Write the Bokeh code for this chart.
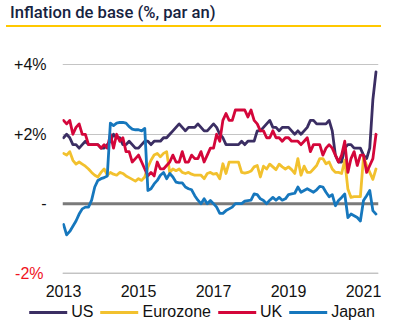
from bokeh.plotting import figure
from bokeh.models import Range1d, FixedTicker, Span, LinearAxis, Legend, LegendItem, Div
from bokeh.layouts import column
from bokeh.embed import file_html
from bokeh.resources import INLINE

# ---------------- data (monthly, Jan 2013 .. May 2021) ----------------
start_year = 2013
series_names = ["US", "Eurozone", "UK", "Japan"]

us = [1.9, 2.0, 1.9, 1.7, 1.7, 1.6, 1.7, 1.8, 1.7, 1.7, 1.7, 1.7,
      1.6, 1.6, 1.7, 1.8, 2.0, 1.9, 1.9, 1.7, 1.7, 1.8, 1.7, 1.6,
      1.6, 1.7, 1.8, 1.8, 1.7, 1.8, 1.8, 1.8, 1.9, 1.9, 2.0, 2.1,
      2.2, 2.3, 2.2, 2.1, 2.2, 2.2, 2.2, 2.3, 2.2, 2.1, 2.1, 2.2,
      2.3, 2.2, 2.0, 1.9, 1.7, 1.7, 1.7, 1.7, 1.7, 1.8, 1.7, 1.8,
      1.8, 1.8, 2.1, 2.1, 2.2, 2.3, 2.4, 2.2, 2.2, 2.1, 2.2, 2.2,
      2.2, 2.1, 2.0, 2.1, 2.0, 2.1, 2.2, 2.4, 2.4, 2.3, 2.3, 2.3,
      2.3, 2.4, 2.1, 1.4, 1.2, 1.2, 1.6, 1.7, 1.7, 1.6, 1.6, 1.6,
      1.4, 1.3, 1.6, 3.0, 3.8]

eurozone = [1.45, 1.4, 1.5, 1.25, 1.14, 1.2, 1.14, 1.08, 1.0, 0.9, 0.82, 0.77,
            0.9, 1.0, 0.82, 0.9, 0.85, 0.82, 0.9, 0.87, 0.8, 0.75, 0.7, 0.65,
            0.72, 0.67, 0.77, 1.05, 1.25, 1.4, 1.45, 1.35, 1.45, 1.5, 0.9, 1.0,
            0.95, 1.0, 0.9, 0.87, 0.9, 0.85, 0.82, 0.82, 0.82, 0.72, 0.87, 0.9,
            0.85, 0.87, 0.72, 1.15, 0.87, 1.2, 1.2, 1.2, 1.2, 0.9, 0.88, 0.9,
            0.94, 1.06, 1.1, 0.77, 1.08, 1.0, 1.14, 1.06, 0.98, 1.14, 1.06, 1.0,
            1.06, 0.98, 0.87, 1.3, 0.82, 1.08, 0.9, 0.9, 1.0, 1.1, 1.3, 1.3,
            1.15, 1.2, 1.0, 0.9, 0.9, 0.87, 1.25, 0.42, 0.18, 0.2, 0.2, 0.2,
            1.35, 1.1, 0.9, 0.7, 1.0]

uk = [2.4, 2.3, 2.4, 2.0, 2.2, 2.3, 2.0, 2.0, 1.7, 1.7, 1.7, 1.7,
      1.6, 1.7, 1.6, 2.0, 1.6, 2.0, 1.8, 1.9, 1.5, 1.5, 1.2, 1.3,
      1.4, 1.2, 1.0, 0.8, 0.9, 0.8, 1.2, 1.0, 1.0, 1.1, 1.2, 1.4,
      1.2, 1.2, 1.5, 1.2, 1.2, 1.4, 1.3, 1.3, 1.5, 1.2, 1.4, 1.6,
      1.6, 2.0, 1.8, 2.4, 2.6, 2.4, 2.4, 2.7, 2.7, 2.7, 2.7, 2.5,
      2.7, 2.4, 2.3, 2.1, 2.1, 1.9, 1.9, 2.1, 1.9, 1.9, 1.8, 1.9,
      1.9, 1.8, 1.8, 1.8, 1.7, 1.8, 1.9, 1.5, 1.7, 1.7, 1.7, 1.4,
      1.6, 1.7, 1.6, 1.4, 1.2, 1.4, 1.8, 0.9, 1.3, 1.5, 1.1, 1.4,
      1.4, 0.9, 1.1, 1.3, 2.0]

japan = [-0.6, -0.9, -0.8, -0.65, -0.5, -0.3, -0.15, -0.1, -0.1, 0.1, 0.48, 0.67,
         0.72, 0.75, 0.8, 2.32, 2.25, 2.32, 2.34, 2.34, 2.32, 2.22, 2.15, 2.13,
         2.13, 2.1, 2.17, 0.38, 0.43, 0.57, 0.67, 0.82, 0.9, 0.72, 0.87, 0.77,
         0.62, 0.6, 0.6, 0.48, 0.43, 0.4, 0.23, 0.1, 0.0, 0.14, 0.0, 0.09,
         0.0, -0.1, -0.28, -0.28, -0.2, -0.15, -0.1, 0.0, 0.0, 0.0, 0.07, 0.09,
         0.1, 0.28, 0.26, 0.14, 0.09, 0.0, 0.1, 0.18, 0.1, 0.18, 0.1, 0.14,
         0.26, 0.28, 0.3, 0.48, 0.33, 0.38, 0.43, 0.38, 0.33, 0.4, 0.5, 0.48,
         0.33, 0.2, 0.26, -0.06, 0.09, 0.18, 0.28, -0.4, -0.3, -0.35, -0.4, -0.5,
         0.09, 0.23, 0.38, -0.2, -0.3]

year_ticks = [2013, 2015, 2017, 2019, 2021]
y_ticks = [4, 2, 0]
y_tick_labels = {4: "+4%", 2: "+2%", 0: "-"}
neg_ticks = [-2]
neg_tick_labels = {-2: "-2%"}
grid_ticks = [4, 2, -2]
title_text = "Inflation de base (%, par an)"

colors = ["#3b2e63", "#f2c12e", "#d4063a", "#1677bd"]
series = [us, eurozone, uk, japan]

x = [start_year + i / 12 for i in range(len(us))]

FONT = "Liberation Sans"
HEADER_H = 29
MB_BOTTOM = 27
MAIN_H = 276 - HEADER_H + MB_BOTTOM
LEG_H = 331 - HEADER_H - MAIN_H

header = Div(text=('<div style="font-family: Roboto, sans-serif; font-weight: 500; font-size: 16.6px; '
                   'color: #17233f; line-height: 20px; padding: 3px 0 2px 4px; width: 375px; '
                   'border-bottom: 2.5px solid #ffc800; margin-left: 6px;">' + title_text + '</div>'),
             width=404, height=HEADER_H, margin=(0, 0, 0, 0))

X0, X1 = 2012.973, 2021.4
p = figure(width=404, height=MAIN_H, output_backend="svg", toolbar_location=None,
           x_range=Range1d(X0, X1), y_range=Range1d(-2.1, 4.3),
           min_border_left=62, min_border_right=26, min_border_top=54 - HEADER_H,
           min_border_bottom=MB_BOTTOM,
           background_fill_color="white", border_fill_color="white", margin=(0, 0, 0, 0))
p.outline_line_color = None

neg_axis = LinearAxis(ticker=FixedTicker(ticks=neg_ticks))
p.add_layout(neg_axis, "left")

# axes
p.xaxis.ticker = FixedTicker(ticks=year_ticks)
p.yaxis[0].ticker = FixedTicker(ticks=y_ticks)
p.yaxis[0].major_label_overrides = y_tick_labels
neg_axis.major_label_overrides = neg_tick_labels
for ax in (p.xaxis[0], p.yaxis[0], neg_axis):
    ax.axis_line_color = None
    ax.major_tick_line_color = None
    ax.minor_tick_line_color = None
    ax.major_tick_out = 0
    ax.major_tick_in = 0
    ax.major_label_text_font = FONT
    ax.major_label_text_font_size = "16px"
    ax.major_label_text_color = "#111111"
neg_axis.major_label_text_color = "#f0141e"
p.xaxis.major_label_standoff = 8
p.yaxis[0].major_label_standoff = 16
neg_axis.major_label_standoff = -32

# grid
p.xgrid.visible = False
yg = p.ygrid[0]
yg.axis = None
yg.ticker = FixedTicker(ticks=grid_ticks)
yg.grid_line_color = "#c4c4c4"
yg.grid_line_width = 1

# gridline at the lowest tick drawn explicitly as well, and the heavy zero line
for loc, col, w in ((neg_ticks[0], "#c4c4c4", 1), (0, "#7a7a7a", 3)):
    p.add_layout(Span(location=loc, dimension="width", line_color=col, line_width=w, level="underlay"))

for name, vals, col in zip(series_names, series, colors):
    p.line(x, vals, line_color=col, line_width=2.8, line_join="round", line_cap="round")

# legend strip (proxy lines carry the series but fall outside this strip's ranges)
lg = figure(width=404, height=LEG_H, output_backend="svg", toolbar_location=None,
            x_axis_type=None, y_axis_type=None,
            x_range=Range1d(0, 1), y_range=Range1d(0, 1),
            min_border=0, background_fill_color="white", border_fill_color="white", margin=(0, 0, 0, 0))
lg.outline_line_color = None
lg.grid.visible = False
for fig in (p, lg):
    if "frame_align" in fig.properties():
        fig.frame_align = False
leg_renderers = [lg.line(x, vals, line_color=col, line_width=3, line_cap="round")
                 for vals, col in zip(series, colors)]
legend = Legend(items=[LegendItem(label=n, renderers=[r]) for n, r in zip(series_names, leg_renderers)],
                orientation="horizontal", location="top",
                glyph_width=38, glyph_height=16, label_height=16, label_standoff=4, spacing=7,
                padding=0, margin=0, border_line_color=None, background_fill_alpha=0,
                label_text_font=FONT, label_text_font_size="16px", label_text_color="#111111")
lg.add_layout(legend, "center")

layout = column(header, p, lg, spacing=0, margin=(0, 0, 0, 0))
open("out.html", "w").write(file_html(layout, INLINE))
